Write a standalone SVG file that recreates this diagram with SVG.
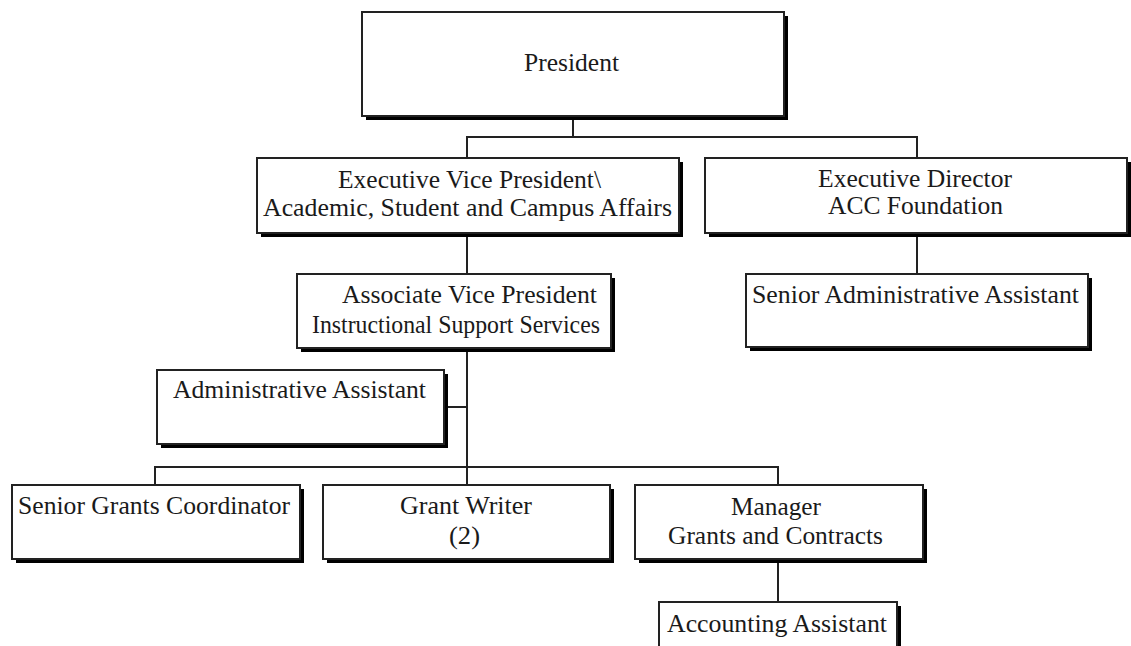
<svg xmlns="http://www.w3.org/2000/svg" width="1131" height="646" viewBox="0 0 1131 646">
  <style>
    .shadow { fill: #000; }
    .box { fill: #fff; stroke: #222; stroke-width: 2; }
    .lbl { font-family: "Liberation Serif", "Times New Roman", serif; font-size: 25px; fill: #1a1a1a; }
    .wire { stroke: #222; stroke-width: 2; fill: none; }
  </style>
  <rect width="1131" height="646" fill="#fff"/>

  <!-- reporting lines -->
  <g id="connectors">
    <line class="wire" x1="573" y1="118" x2="573" y2="137"/>
    <line class="wire" x1="466" y1="137" x2="918" y2="137"/>
    <line class="wire" x1="467" y1="137" x2="467" y2="158"/>
    <line class="wire" x1="917" y1="137" x2="917" y2="158"/>
    <line class="wire" x1="467" y1="235" x2="467" y2="274"/>
    <line class="wire" x1="917" y1="235" x2="917" y2="274"/>
    <line class="wire" x1="467" y1="350" x2="467" y2="485"/>
    <line class="wire" x1="446" y1="407" x2="467" y2="407"/>
    <line class="wire" x1="154" y1="467" x2="779" y2="467"/>
    <line class="wire" x1="155" y1="467" x2="155" y2="485"/>
    <line class="wire" x1="778" y1="467" x2="778" y2="485"/>
    <line class="wire" x1="778" y1="561" x2="778" y2="602"/>
  </g>

  <g id="president">
    <rect class="shadow" x="366" y="16" width="422" height="104"/>
    <rect class="box" x="362" y="12" width="422" height="104"/>
    <text class="lbl" x="524" y="71" textLength="95" lengthAdjust="spacingAndGlyphs">President</text>
  </g>

  <g id="evp">
    <rect class="shadow" x="261" y="162" width="422" height="75"/>
    <rect class="box" x="257" y="158" width="422" height="75"/>
    <text class="lbl" x="338" y="188" textLength="263" lengthAdjust="spacingAndGlyphs">Executive Vice President\</text>
    <text class="lbl" x="263" y="216" textLength="409" lengthAdjust="spacingAndGlyphs">Academic, Student and Campus Affairs</text>
  </g>

  <g id="exec-director">
    <rect class="shadow" x="709" y="162" width="422" height="75"/>
    <rect class="box" x="705" y="158" width="422" height="75"/>
    <text class="lbl" x="818" y="187" textLength="194" lengthAdjust="spacingAndGlyphs">Executive Director</text>
    <text class="lbl" x="828" y="214" textLength="175" lengthAdjust="spacingAndGlyphs">ACC Foundation</text>
  </g>

  <g id="avp">
    <rect class="shadow" x="301" y="278" width="314" height="74"/>
    <rect class="box" x="297" y="274" width="314" height="74"/>
    <text class="lbl" x="342" y="303" textLength="255" lengthAdjust="spacingAndGlyphs">Associate Vice President</text>
    <text class="lbl" x="312" y="333" textLength="288" lengthAdjust="spacingAndGlyphs">Instructional Support Services</text>
  </g>

  <g id="senior-admin-assistant">
    <rect class="shadow" x="750" y="278" width="342" height="73"/>
    <rect class="box" x="746" y="274" width="342" height="73"/>
    <text class="lbl" x="752" y="303" textLength="327" lengthAdjust="spacingAndGlyphs">Senior Administrative Assistant</text>
  </g>

  <g id="admin-assistant">
    <rect class="shadow" x="161" y="374" width="287" height="74"/>
    <rect class="box" x="157" y="370" width="287" height="74"/>
    <text class="lbl" x="173" y="398" textLength="253" lengthAdjust="spacingAndGlyphs">Administrative Assistant</text>
  </g>

  <g id="senior-grants-coordinator">
    <rect class="shadow" x="16" y="489" width="288" height="74"/>
    <rect class="box" x="12" y="485" width="288" height="74"/>
    <text class="lbl" x="18" y="514" textLength="272" lengthAdjust="spacingAndGlyphs">Senior Grants Coordinator</text>
  </g>

  <g id="grant-writer">
    <rect class="shadow" x="327" y="489" width="287" height="74"/>
    <rect class="box" x="323" y="485" width="287" height="74"/>
    <text class="lbl" x="400" y="514" textLength="132" lengthAdjust="spacingAndGlyphs">Grant Writer</text>
    <text class="lbl" x="449" y="544" textLength="31" lengthAdjust="spacingAndGlyphs">(2)</text>
  </g>

  <g id="manager">
    <rect class="shadow" x="639" y="489" width="288" height="74"/>
    <rect class="box" x="635" y="485" width="288" height="74"/>
    <text class="lbl" x="731" y="515" textLength="90" lengthAdjust="spacingAndGlyphs">Manager</text>
    <text class="lbl" x="668" y="544" textLength="215" lengthAdjust="spacingAndGlyphs">Grants and Contracts</text>
  </g>

  <g id="accounting-assistant">
    <rect class="shadow" x="663" y="606" width="238" height="74"/>
    <rect class="box" x="659" y="602" width="238" height="74"/>
    <text class="lbl" x="667" y="632" textLength="220" lengthAdjust="spacingAndGlyphs">Accounting Assistant</text>
  </g>
</svg>
